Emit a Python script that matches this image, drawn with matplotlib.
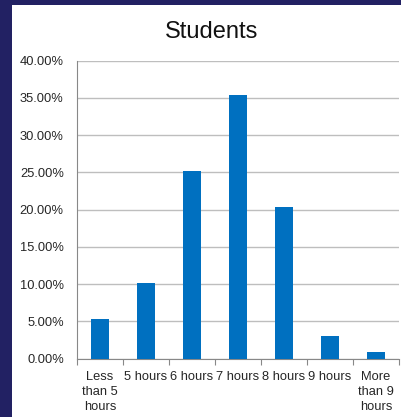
import matplotlib.pyplot as plt
from matplotlib.patches import Rectangle
from matplotlib.ticker import PercentFormatter
import numpy as np

plt.rcParams["font.family"] = ["Liberation Sans", "DejaVu Sans"]

categories = ["Less\nthan 5\nhours", "5 hours", "6 hours", "7 hours",
              "8 hours", "9 hours", "More\nthan 9\nhours"]
shares = [5.3, 10.15, 25.25, 35.45, 20.35, 3.1, 0.85]
y_ticks = [0, 5, 10, 15, 20, 25, 30, 35, 40]

fig = plt.figure(figsize=(4.02, 4.17), dpi=100)
fig.patch.set_facecolor("#222163")
# white chart area inside the navy frame
fig.patches.append(Rectangle((12 / 402, 0), 1 - 12 / 402, 1 - 5 / 417,
                             transform=fig.transFigure, facecolor="white",
                             edgecolor="none", zorder=-5))

ax = fig.add_axes([77 / 402, 1 - 358.7 / 417, 322 / 402, 298 / 417])
ax.set_facecolor("none")

x = np.arange(len(categories))
ax.bar(x, shares, width=0.4, color="#0070C0", zorder=3)

ax.set_xlim(-0.5, len(categories) - 0.5)
ax.set_ylim(0, 40)
ax.set_yticks(y_ticks)
ax.yaxis.set_major_formatter(PercentFormatter(decimals=2))
ax.yaxis.grid(True, color="#BEBEBE", linewidth=1.0, zorder=0)
ax.tick_params(axis="y", length=0, pad=9.5, labelsize=9.3, labelcolor="#262626")

ax.set_xticks(x)
ax.set_xticklabels(categories, fontsize=9.3, color="#262626", linespacing=1.35)
ax.set_xticks(np.arange(len(categories) + 1) - 0.5, minor=True)
ax.tick_params(axis="x", which="major", length=0, pad=8.5)
ax.tick_params(axis="x", which="minor", length=4, color="#888888", width=0.8)

for side in ("top", "right"):
    ax.spines[side].set_visible(False)
for side in ("left", "bottom"):
    ax.spines[side].set_color("#888888")
    ax.spines[side].set_linewidth(0.8)

fig.text(212 / 402, 1 - 32 / 417, "Students", ha="center", va="center",
         fontsize=17, color="#111111")

fig.savefig("out.png", dpi=100, facecolor=fig.get_facecolor())
